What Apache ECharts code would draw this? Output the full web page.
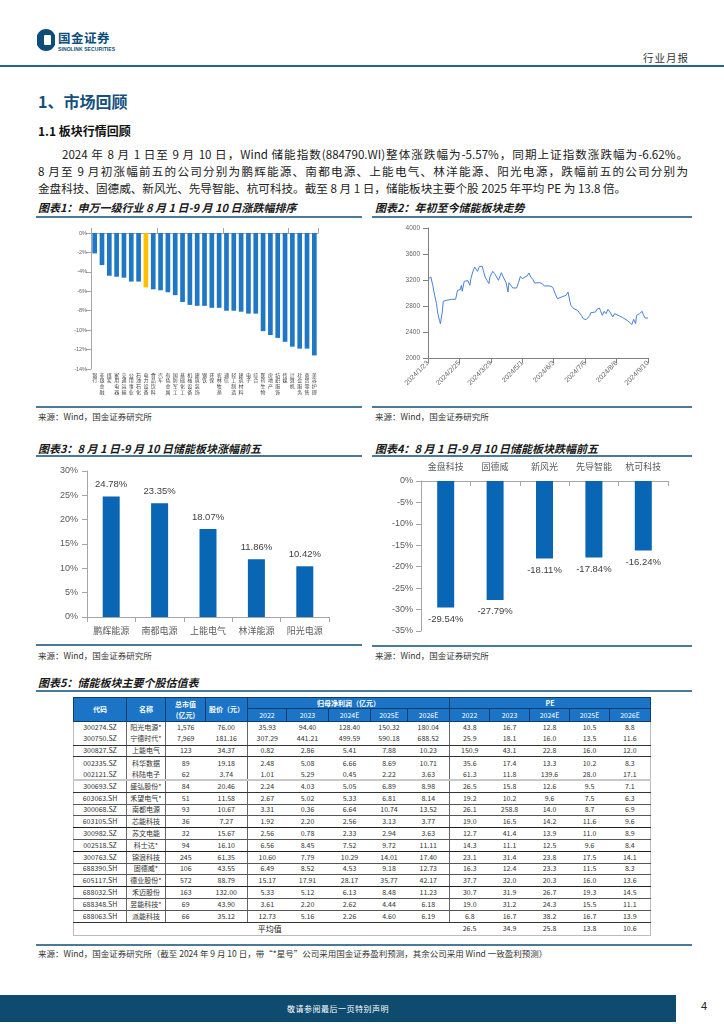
<!DOCTYPE html>
<html><head><meta charset="utf-8">
<script src="https://cdn.jsdelivr.net/npm/echarts@6/dist/echarts.min.js"></script>
<style>
*{margin:0;padding:0;box-sizing:border-box;}
body{width:724px;height:1024px;position:relative;background:#fff;font-family:"Noto Sans CJK SC","Liberation Sans",sans-serif;color:#222;overflow:hidden;}
.abs{position:absolute;}
.ct{font-weight:bold;font-style:italic;font-size:11px;color:#1a1a1a;white-space:nowrap;}
.hl{position:absolute;height:2px;background:#4a7a98;}
.src{position:absolute;font-size:8.5px;color:#333;white-space:nowrap;}
.para{position:absolute;left:38px;width:650px;font-size:11.6px;line-height:17px;color:#222;}
.para div{white-space:nowrap;}
.j{text-align:justify;text-align-last:justify;}
table{border-collapse:collapse;table-layout:fixed;font-size:7px;color:#333;}
td,th{text-align:center;padding:0;overflow:hidden;white-space:nowrap;line-height:1;}
th{background:#1c74c6;color:#fff;font-weight:bold;border:1px solid #0d3f6e;font-size:7px;}
td{border-left:1px solid #666;border-right:1px solid #666;}
tr.d td{height:11.8px;}
</style></head>
<body>
<!-- header -->
<svg class="abs" style="left:37px;top:28px" width="18" height="24" viewBox="0 0 18 24">
<path d="M9 1 A10 11 0 1 0 9 23 A10 11 0 1 0 9 1 Z" fill="#0c4d7a"/>
<rect x="7" y="7" width="7" height="10" rx="1" fill="#fff"/>
</svg>
<div class="abs" style="left:58px;top:31px;font-size:12.5px;line-height:13px;font-weight:bold;color:#0c4d7a;letter-spacing:0.5px;">国金证券</div>
<div class="abs" style="left:58px;top:46px;font-size:5px;line-height:6px;font-weight:bold;color:#0c4d7a;font-family:'Liberation Sans';letter-spacing:0.1px;">SINOLINK SECURITIES</div>
<div class="abs" style="left:643px;top:50px;font-size:10.5px;color:#333;letter-spacing:1px;">行业月报</div>
<div class="abs" style="left:0;top:65px;width:724px;height:2px;background:#2c6687;"></div>

<div class="abs" style="left:38px;top:89px;font-size:16px;font-weight:bold;color:#15507c;">1、市场回顾</div>
<div class="abs" style="left:38px;top:122px;font-size:12px;font-weight:bold;color:#111;">1.1 板块行情回顾</div>
<div class="para" style="top:146px;">
<div class="j" style="padding-left:24px;">2024 年 8 月 1 日至 9 月 10 日，Wind 储能指数(884790.WI)整体涨跌幅为-5.57%，同期上证指数涨跌幅为-6.62%。</div>
<div class="j">8 月至 9 月初涨幅前五的公司分别为鹏辉能源、南都电源、上能电气、林洋能源、阳光电源，跌幅前五的公司分别为</div>
<div>金盘科技、固德威、新风光、先导智能、杭可科技。截至 8 月 1 日，储能板块主要个股 2025 年平均 PE 为 13.8 倍。</div>
</div>

<!-- chart titles -->
<div class="abs ct" style="left:38px;top:199px;">图表1：申万一级行业 8 月 1 日-9 月 10 日涨跌幅排序</div>
<div class="hl" style="left:36px;top:216px;width:326px;"></div>
<div class="abs ct" style="left:375px;top:199px;">图表2：年初至今储能板块走势</div>
<div class="hl" style="left:372px;top:216px;width:320px;"></div>
<div id="c1" class="abs" style="left:30px;top:220px;width:335px;height:185px;"></div>
<div id="c2" class="abs" style="left:372px;top:220px;width:320px;height:185px;"></div>
<div class="hl" style="left:36px;top:406px;width:326px;height:1.5px;"></div>
<div class="hl" style="left:372px;top:406px;width:320px;height:1.5px;"></div>
<div class="src" style="left:38px;top:410px;">来源：Wind，国金证券研究所</div>
<div class="src" style="left:375px;top:410px;">来源：Wind，国金证券研究所</div>

<div class="abs ct" style="left:38px;top:440px;">图表3：8 月 1 日-9 月 10 日储能板块涨幅前五</div>
<div class="hl" style="left:36px;top:455px;width:326px;"></div>
<div class="abs ct" style="left:375px;top:440px;">图表4：8 月 1 日-9 月 10 日储能板块跌幅前五</div>
<div class="hl" style="left:372px;top:455px;width:320px;"></div>
<div id="c3" class="abs" style="left:30px;top:458px;width:335px;height:184px;"></div>
<div id="c4" class="abs" style="left:372px;top:458px;width:320px;height:186px;"></div>
<div class="hl" style="left:36px;top:644px;width:326px;height:1.5px;"></div>
<div class="hl" style="left:372px;top:645px;width:320px;height:1.5px;"></div>
<div class="src" style="left:38px;top:649px;">来源：Wind，国金证券研究所</div>
<div class="src" style="left:375px;top:649px;">来源：Wind，国金证券研究所</div>

<div class="abs ct" style="left:38px;top:674px;">图表5：储能板块主要个股估值表</div>
<div class="hl" style="left:36px;top:690px;width:656px;"></div>
<div id="tbl" class="abs" style="left:73px;top:697px;"></div>
<div class="hl" style="left:36px;top:944px;width:656px;height:1.5px;"></div>
<div class="src" style="left:38px;top:947px;">来源：Wind，国金证券研究所（截至 2024 年 9 月 10 日，带“*星号”公司采用国金证券盈利预测，其余公司采用 Wind 一致盈利预测）</div>

<!-- footer -->
<div class="abs" style="left:0;top:995px;width:676px;height:27px;background:#0e4b6f;"></div>
<div class="abs" style="left:0;top:1003px;width:676px;text-align:center;font-size:8px;color:#fff;letter-spacing:0.5px;">敬请参阅最后一页特别声明</div>
<div class="abs" style="left:701px;top:1000px;font-size:11px;color:#222;font-family:'Liberation Sans';">4</div>

<script>
// ---------- data ----------
const industryNames = ['银行','非银金融','煤炭','家用电器','交通运输','公用事业','石油石化','电力设备','食品饮料','汽车','有色金属','国防军工','基础化工','机械设备','建筑装饰','钢铁','环保','农林牧渔','通信','轻工制造','建筑材料','电子','综合','医药生物','房地产','纺织服饰','传媒','计算机','社会服务','商贸零售','美容护理'];
const industryChanges = [-2.1,-3.3,-4.4,-4.5,-4.6,-5.0,-5.0,-5.6,-5.8,-5.9,-6.1,-6.4,-7.1,-7.4,-7.5,-7.5,-7.7,-7.7,-8.0,-8.0,-8.1,-8.3,-8.3,-10.1,-10.5,-10.8,-11.2,-11.7,-11.9,-11.9,-12.6];
const highlightIndustry = '电力设备';
const industryTicks = [0,-2,-4,-6,-8,-10,-12,-14];

const trendStartDate = [2024,1,23];
const trendTickDays = [0,33,66,99,132,165,198,231];
const trendDayOffsets = [0,3,5,7,9,10,12,13,15,16,19,25,29,31,34,35,36,38,40,42,44,45,47,49,51,52,54,57,58,60,62,64,65,68,70,72,74,77,79,80,82,84,85,87,89,93,95,97,99,101,104,106,108,110,112,114,117,120,122,124,128,131,132,134,136,138,142,145,147,149,150,153,155,157,159,161,163,166,168,170,171,173,176,177,180,181,183,185,187,189,191,193,194,196,198,201,204,206,209,212,214,215,216,218,219,222,223,225,226,228,231];
const trendValues = [3210,3246,3118,2964,2836,2708,2580,2528,2708,2872,2887,2903,2903,3041,3051,3118,3026,3180,3205,3190,3118,3221,3323,3400,3374,3333,3410,3410,3349,3246,3195,3144,3246,3333,3297,3246,3195,3313,3246,3272,3159,3015,3159,3118,3077,3077,3159,3256,3221,3231,3262,3308,3246,3210,3154,3144,3159,3144,3108,3118,3108,3087,3051,2974,2913,2938,2949,2964,3015,2872,2810,2759,2774,2733,2733,2656,2605,2590,2564,2656,2697,2682,2708,2744,2769,2733,2656,2718,2682,2749,2708,2682,2631,2682,2656,2646,2626,2605,2580,2544,2513,2513,2595,2528,2656,2682,2708,2718,2667,2615,2615];

const gainerNames = ['鹏辉能源','南都电源','上能电气','林洋能源','阳光电源'];
const gainerValues = [24.78,23.35,18.07,11.86,10.42];
const loserNames = ['金盘科技','固德威','新风光','先导智能','杭可科技'];
const loserValues = [-29.54,-27.79,-18.11,-17.84,-16.24];

const stockCodes = ['300274.SZ','300750.SZ','300827.SZ','002335.SZ','002121.SZ','300693.SZ','603063.SH','300068.SZ','603105.SH','300982.SZ','002518.SZ','300763.SZ','688390.SH','605117.SH','688032.SH','688348.SH','688063.SH'];
const stockNames = ['阳光电源*','宁德时代*','上能电气','科华数据','科陆电子','盛弘股份*','禾望电气*','南都电源','芯能科技','苏文电能','科士达*','锦浪科技','固德威*','德业股份*','禾迈股份','昱能科技*','派能科技'];
const stockMarketCap = ['1,576','7,969','123','89','62','84','51','93','36','32','94','245','106','572','163','69','66'];
const stockPrice = ['76.00','181.16','34.37','19.18','3.74','20.46','11.58','10.67','7.27','15.67','16.10','61.35','43.55','88.79','132.00','43.90','35.12'];
const profitYears = ['2022','2023','2024E','2025E','2026E'];
const netProfitRows = [
 ['35.93','94.40','128.40','150.32','180.04'],
 ['307.29','441.21','499.59','590.18','688.52'],
 ['0.82','2.86','5.41','7.88','10.23'],
 ['2.48','5.08','6.66','8.69','10.71'],
 ['1.01','5.29','0.45','2.22','3.63'],
 ['2.24','4.03','5.05','6.89','8.98'],
 ['2.67','5.02','5.33','6.81','8.14'],
 ['3.31','0.36','6.64','10.74','13.52'],
 ['1.92','2.20','2.56','3.13','3.77'],
 ['2.56','0.78','2.33','2.94','3.63'],
 ['6.56','8.45','7.52','9.72','11.11'],
 ['10.60','7.79','10.29','14.01','17.40'],
 ['6.49','8.52','4.53','9.18','12.73'],
 ['15.17','17.91','28.17','35.77','42.17'],
 ['5.33','5.12','6.13','8.48','11.23'],
 ['3.61','2.20','2.62','4.44','6.18'],
 ['12.73','5.16','2.26','4.60','6.19']];
const peRows = [
 ['43.8','16.7','12.8','10.5','8.8'],
 ['25.9','18.1','16.0','13.5','11.6'],
 ['150.9','43.1','22.8','16.0','12.0'],
 ['35.6','17.4','13.3','10.2','8.3'],
 ['61.3','11.8','139.6','28.0','17.1'],
 ['26.5','15.8','12.6','9.5','7.1'],
 ['19.2','10.2','9.6','7.5','6.3'],
 ['26.1','258.8','14.0','8.7','6.9'],
 ['19.0','16.5','14.2','11.6','9.6'],
 ['12.7','41.4','13.9','11.0','8.9'],
 ['14.3','11.1','12.5','9.6','8.4'],
 ['23.1','31.4','23.8','17.5','14.1'],
 ['16.3','12.4','23.3','11.5','8.3'],
 ['37.7','32.0','20.3','16.0','13.6'],
 ['30.7','31.9','26.7','19.3','14.5'],
 ['19.0','31.2','24.3','15.5','11.1'],
 ['6.8','16.7','38.2','16.7','13.9']];
const peAverage = ['26.5','34.9','25.8','13.8','10.6'];

// ---------- charts ----------
const FF = '"Liberation Sans","Noto Sans CJK SC",sans-serif';
const c1 = echarts.init(document.getElementById('c1'), null, {renderer:'canvas'});
c1.setOption({
  animation:false,
  textStyle:{fontFamily:FF},
  grid:{left:61,top:13,width:227,height:136},
  xAxis:[
    {type:'category',data:industryNames,position:'top',
     axisLine:{onZero:false,lineStyle:{color:'#a6a6a6'}},
     axisTick:{show:true,lineStyle:{color:'#a6a6a6'}},axisLabel:{show:false}},
    {type:'category',data:industryNames,position:'bottom',
     axisLine:{show:false,onZero:false},axisTick:{show:false},
     axisLabel:{interval:0,fontSize:5,lineHeight:5.6,color:'#444',margin:3,verticalAlign:'top',
       fontFamily:'"Noto Sans CJK SC"',formatter:v=>v.split('').join('\n')}}
  ],
  yAxis:{type:'value',min:industryTicks[industryTicks.length-1],max:industryTicks[0],interval:2,
    axisLine:{show:true,lineStyle:{color:'#a6a6a6'}},axisTick:{show:true,lineStyle:{color:'#a6a6a6'}},
    splitLine:{show:false},axisLabel:{fontSize:5.5,color:'#666',margin:4,formatter:'{value}%'}},
  series:[{type:'bar',xAxisIndex:0,barWidth:'64%',
    data:industryChanges.map((v,i)=>({value:v,itemStyle:{color:industryNames[i]===highlightIndustry?'#ffc000':'#1f77c6'}}))}]
});

function dayLabel(d){
  const t = new Date(Date.UTC(trendStartDate[0],trendStartDate[1]-1,trendStartDate[2]) + d*86400000);
  return t.getUTCFullYear()+'/'+(t.getUTCMonth()+1)+'/'+t.getUTCDate();
}
const c2 = echarts.init(document.getElementById('c2'));
c2.setOption({
  animation:false,
  textStyle:{fontFamily:FF},
  grid:{left:56,top:8,width:220,height:130},
  xAxis:{type:'value',min:trendTickDays[0],max:trendTickDays[trendTickDays.length-1],interval:33,
    axisLine:{onZero:false,lineStyle:{color:'#808080'}},axisTick:{show:true,lineStyle:{color:'#808080'}},
    splitLine:{show:false},axisLabel:{rotate:45,fontSize:7,color:'#666',margin:4,formatter:v=>dayLabel(v)}},
  yAxis:{type:'value',min:2000,max:4000,interval:400,
    axisLine:{show:true,lineStyle:{color:'#808080'}},axisTick:{show:true,lineStyle:{color:'#808080'}},
    splitLine:{show:false},axisLabel:{fontSize:6.5,color:'#666',margin:8,formatter:v=>String(v)}},
  series:[{type:'line',showSymbol:false,lineStyle:{width:1,color:'#4a7fd6'},
    data:trendDayOffsets.map((d,i)=>[d,trendValues[i]])}]
});

const c3 = echarts.init(document.getElementById('c3'));
c3.setOption({
  animation:false,
  textStyle:{fontFamily:FF},
  grid:{left:57,top:13,width:242,height:146},
  xAxis:{type:'category',data:gainerNames,
    axisLine:{lineStyle:{color:'#a6a6a6'}},axisTick:{show:true,lineStyle:{color:'#a6a6a6'}},
    axisLabel:{fontSize:9,color:'#595959',margin:9,fontFamily:'"Noto Sans CJK SC"'}},
  yAxis:{type:'value',min:0,max:30,interval:5,
    axisLine:{show:true,lineStyle:{color:'#a6a6a6'}},axisTick:{show:true,lineStyle:{color:'#a6a6a6'}},
    splitLine:{show:false},axisLabel:{fontSize:9,color:'#595959',margin:9,formatter:'{value}%'}},
  series:[{type:'bar',data:gainerValues,barWidth:17,itemStyle:{color:'#0866b4'},
    label:{show:true,position:'top',distance:7,fontSize:9.5,color:'#404040',formatter:p=>p.value.toFixed(2)+'%'}}]
});

const c4 = echarts.init(document.getElementById('c4'));
c4.setOption({
  animation:false,
  textStyle:{fontFamily:FF},
  grid:{left:49,top:23,width:247,height:150},
  xAxis:{type:'category',data:loserNames,position:'top',
    axisLine:{onZero:false,lineStyle:{color:'#a6a6a6'}},axisTick:{show:true,inside:true,lineStyle:{color:'#a6a6a6'}},
    axisLabel:{fontSize:9,color:'#595959',margin:10,fontFamily:'"Noto Sans CJK SC"'}},
  yAxis:{type:'value',min:-35,max:0,interval:5,
    axisLine:{show:true,lineStyle:{color:'#a6a6a6'}},axisTick:{show:true,lineStyle:{color:'#a6a6a6'}},
    splitLine:{show:false},axisLabel:{fontSize:9,color:'#595959',margin:8,formatter:'{value}%'}},
  series:[{type:'bar',data:loserValues,barWidth:17,itemStyle:{color:'#0866b4'},
    label:{show:true,position:'bottom',distance:7,fontSize:9.5,color:'#404040',formatter:p=>p.value.toFixed(2)+'%'}}]
});

// ---------- table ----------
const colW = [53,39,40,42,39,42,42,37,42,40,40,40,40,41];
const darkAfter = {1:'1px solid #333',2:'1px solid #333',4:'2px solid #c8c8c8',5:'1px solid #333',6:'1px solid #555',7:'1px solid #555',8:'1.5px solid #222',9:'1px solid #555',10:'1.5px solid #222',11:'1px solid #555',12:'1px solid #555',13:'1.5px solid #222',14:'1px solid #555',15:'1px solid #555',16:'1px solid #333'};
let h = '<table style="width:577px"><colgroup>'+colW.map(w=>'<col style="width:'+w+'px">').join('')+'</colgroup>';
h += '<tr style="height:11px"><th rowspan="2">代码</th><th rowspan="2">名称</th><th rowspan="2" style="line-height:1.5">总市值<br>(亿元)</th><th rowspan="2">股价（元）</th><th colspan="5">归母净利润（亿元）</th><th colspan="5">PE</th></tr>';
h += '<tr style="height:13px">'+profitYears.map(y=>'<th style="font-weight:normal">'+y+'</th>').join('')+profitYears.map(y=>'<th style="font-weight:normal">'+y+'</th>').join('')+'</tr>';
stockCodes.forEach((c,i)=>{
  const bb = darkAfter[i] ? 'border-bottom:'+darkAfter[i]+';' : '';
  const cells = [c, stockNames[i], stockMarketCap[i], stockPrice[i]].concat(netProfitRows[i]).concat(peRows[i]);
  h += '<tr class="d">'+cells.map((v,k)=>{
    let st = bb;
    if(k===2) st += 'border-right:none;';
    if(k===3) st += 'border-left:none;';
    if(k>=4 && k<=7) st += 'border-right:none;';
    if(k>=5 && k<=8) st += 'border-left:none;';
    if(k>=10) st += 'border-left:none;';
    if(k>=9 && k<=12) st += 'border-right:none;';
    if(k===9) st += 'border-left:1px solid #bbb;';
    if(k===13) st += 'border-right:1px solid #bbb;';
    if(k===0) st += 'border-left:1px solid #bbb;';
    if(k===1) st += 'font-family:"Noto Sans CJK SC";';
    return '<td style="'+st+'">'+v+'</td>';
  }).join('')+'</tr>';
});
h += '<tr style="height:13px"><td colspan="9" style="border-left:1px solid #bbb;border-right:none;border-bottom:1px solid #bbb;font-size:8px;color:#222;padding-left:16px;">平均值</td>'+peAverage.map((v,k)=>'<td style="border-left:none;border-right:'+(k===4?'1px solid #bbb':'none')+';border-bottom:1px solid #bbb;">'+v+'</td>').join('')+'</tr>';
h += '</table>';
document.getElementById('tbl').innerHTML = h;
</script>
</body></html>
